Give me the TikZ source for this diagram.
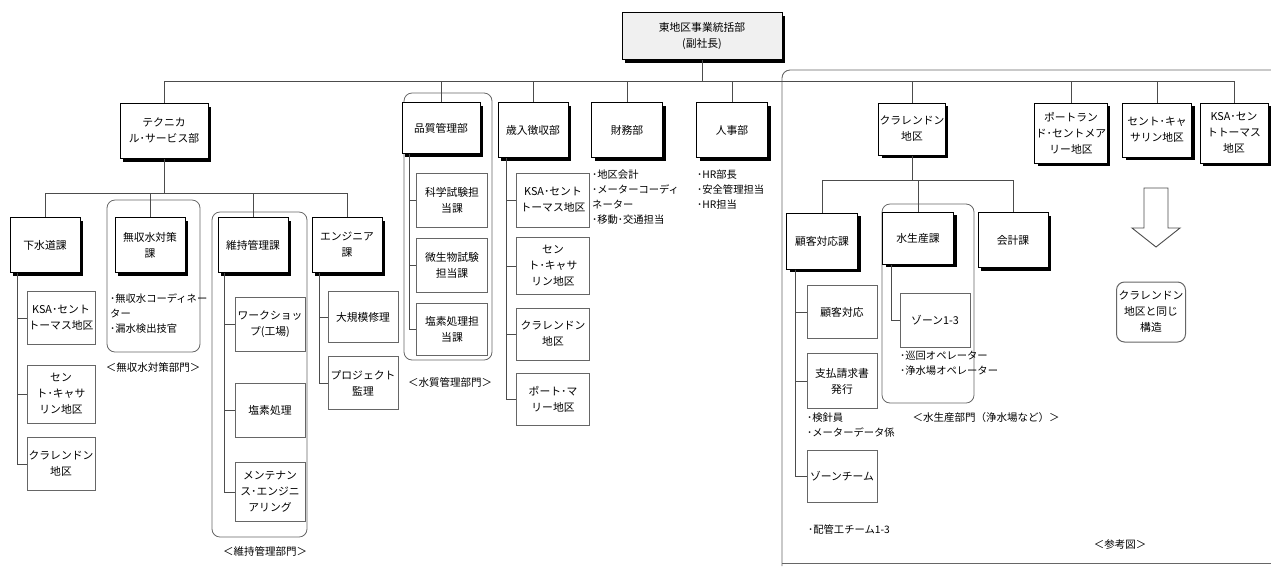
\documentclass[tikz,border=0pt]{standalone}
\usepackage{fontspec}
\setmainfont{Noto Sans CJK JP}
\usetikzlibrary{shadows}
\begin{document}
\begin{tikzpicture}[x=1pt,y=-1pt,
  every node/.style={font=\fontsize{10.8}{16}\selectfont, inner sep=1pt},
  mbox/.style={draw=black, line width=1pt, fill=white, align=center,
    drop shadow={shadow xshift=3pt, shadow yshift=-3pt, fill=black, opacity=1}},
  cbox/.style={draw=black!60, line width=1pt, fill=white, align=center},
  grp/.style={draw=black!60, line width=0.8pt, rounded corners=8pt},
  conn/.style={draw=black!70, line width=0.8pt},
  note/.style={anchor=north west, align=left, inner sep=0pt, font=\fontsize{10.3}{15}\selectfont},
  lbl/.style={inner sep=0pt, font=\fontsize{10.5}{12}\selectfont}
]
\useasboundingbox (0,0) rectangle (1271,566);

% buses
\coordinate (bus) at (0,81);
\coordinate (tbus) at (0,193);
\coordinate (cbus) at (0,180);

% right panel frame
\draw[black!60, line width=0.9pt] (1271,70) [rounded corners=8pt]-- (782,70) [sharp corners]-- (782,566);
\draw[black!60, line width=0.9pt] (782,563) -- (1271,563);

% groups
\draw[grp] (107,200) rectangle (200,352);
\draw[grp] (212,212) rectangle (307,537);
\draw[grp] (404,93) rectangle (492,360);
\draw[grp] (882,204) rectangle (974,403);

% top
\node[mbox, fill=gray!12, minimum width=160pt, minimum height=47pt] (top) at (702,36) {東地区事業統括部\\(副社長)};

% level 2
\node[mbox, minimum width=88pt, minimum height=55pt] (tech) at (164,131) {テクニカ\\ル･サービス部};
\node[mbox, minimum width=78pt, minimum height=51pt] (qual) at (441,128) {品質管理部};
\node[mbox, minimum width=70pt, minimum height=55pt] (rev) at (533,130) {歳入徴収部};
\node[mbox, minimum width=71pt, minimum height=55pt] (fin) at (627,130) {財務部};
\node[mbox, minimum width=71pt, minimum height=55pt] (hr) at (732,130) {人事部};
\node[mbox, minimum width=65pt, minimum height=52pt] (clr) at (912,129) {クラレンドン\\地区};
\node[mbox, minimum width=67pt, minimum height=60pt] (ptl) at (1071,133) {ポートラン\\ド･セントメア\\リー地区};
\node[mbox, minimum width=69pt, minimum height=54pt] (stc) at (1157,130) {セント･キャ\\サリン地区};
\node[mbox, minimum width=68pt, minimum height=60pt] (ksa) at (1234,133) {KSA･セン\\トトーマス\\地区};

\draw[conn] (top.south) -- (top.south |- bus);
\draw[conn] (tech.north |- bus) -- (ksa.north |- bus);
\foreach \n in {tech,qual,rev,fin,hr,clr,ptl,stc,ksa}
  \draw[conn] (\n.north) -- (\n.north |- bus);

% technical services level 3
\node[mbox, minimum width=70pt, minimum height=55pt] (sew) at (45,245) {下水道課};
\node[mbox, minimum width=70pt, minimum height=55pt] (nrw) at (150,245) {無収水対策\\課};
\node[mbox, minimum width=70pt, minimum height=55pt] (mnt) at (253,245) {維持管理課};
\node[mbox, minimum width=70pt, minimum height=55pt] (eng) at (347,245) {エンジニア\\課};
\draw[conn] (tech.south) -- (tech.south |- tbus);
\draw[conn] (sew.north |- tbus) -- (eng.north |- tbus);
\foreach \n in {sew,nrw,mnt,eng}
  \draw[conn] (\n.north) -- (\n.north |- tbus);

% sewerage children
\node[cbox, minimum width=68pt, minimum height=53pt] (s1) at (61,318) {KSA･セント\\トーマス地区};
\node[cbox, minimum width=68pt, minimum height=58pt] (s2) at (61,394) {セン\\ト･キャサ\\リン地区};
\node[cbox, minimum width=68pt, minimum height=53pt] (s3) at (61,464) {クラレンドン\\地区};
\foreach \n in {s1,s2,s3}
  \draw[conn] ([xshift=8pt]sew.south west) |- (\n.west);

% NRW notes
\node[note] (nrwnote) at (110,294) {･無収水コーディネー\\ター\\･漏水検出技官};
\node[lbl] (nrwlbl) at (153,367) {＜無収水対策部門＞};

% maintenance children
\node[cbox, minimum width=70pt, minimum height=54pt] (m1) at (270,324) {ワークショッ\\プ(工場)};
\node[cbox, minimum width=70pt, minimum height=54pt] (m2) at (270,410) {塩素処理};
\node[cbox, minimum width=70pt, minimum height=59pt] (m3) at (270,492) {メンテナン\\ス･エンジニ\\アリング};
\foreach \n in {m1,m2,m3}
  \draw[conn] ([xshift=7pt]mnt.south west) |- (\n.west);
\node[lbl] (mntlbl) at (265,551) {＜維持管理部門＞};

% engineering children
\node[cbox, minimum width=70pt, minimum height=51pt] (e1) at (363,317) {大規模修理};
\node[cbox, minimum width=70pt, minimum height=53pt] (e2) at (363,383) {プロジェクト\\監理};
\foreach \n in {e1,e2}
  \draw[conn] ([xshift=8pt]eng.south west) |- (\n.west);

% quality children
\node[cbox, minimum width=71pt, minimum height=54pt] (q1) at (452,200) {科学試験担\\当課};
\node[cbox, minimum width=71pt, minimum height=54pt] (q2) at (452,265) {微生物試験\\担当課};
\node[cbox, minimum width=71pt, minimum height=52pt] (q3) at (452,329) {塩素処理担\\当課};
\foreach \n in {q1,q2,q3}
  \draw[conn] ([xshift=8pt]qual.south west) |- (\n.west);
\node[lbl] (quallbl) at (450,382) {＜水質管理部門＞};

% revenue children
\node[cbox, minimum width=73pt, minimum height=54pt] (r1) at (553,200) {KSA･セント\\トーマス地区};
\node[cbox, minimum width=73pt, minimum height=57pt] (r2) at (553,266) {セン\\ト･キャサ\\リン地区};
\node[cbox, minimum width=73pt, minimum height=52pt] (r3) at (553,334) {クラレンドン\\地区};
\node[cbox, minimum width=73pt, minimum height=52pt] (r4) at (553,399) {ポート･マ\\リー地区};
\foreach \n in {r1,r2,r3,r4}
  \draw[conn] ([xshift=9pt]rev.south west) |- (\n.west);

% finance / HR notes
\node[note] (finnote) at (592,170) {･地区会計\\･メーターコーディ\\ネーター\\･移動･交通担当};
\node[note] (hrnote) at (697,170) {･HR部長\\･安全管理担当\\･HR担当};

% Clarendon level 3
\node[mbox, minimum width=71pt, minimum height=56pt] (cust) at (822,241) {顧客対応課};
\node[mbox, minimum width=71pt, minimum height=52pt] (prod) at (918,238) {水生産課};
\node[mbox, minimum width=70pt, minimum height=55pt] (acc) at (1013,240) {会計課};
\draw[conn] (clr.south) -- (clr.south |- cbus);
\draw[conn] (cust.north |- cbus) -- (acc.north |- cbus);
\foreach \n in {cust,prod,acc}
  \draw[conn] (\n.north) -- (\n.north |- cbus);

% customer children
\node[cbox, minimum width=70pt, minimum height=53pt] (c1) at (842,312) {顧客対応};
\node[cbox, minimum width=70pt, minimum height=55pt] (c2) at (842,381) {支払請求書\\発行};
\node[cbox, minimum width=70pt, minimum height=52pt] (c3) at (842,476) {ゾーンチーム};
\foreach \n in {c1,c2,c3}
  \draw[conn] ([xshift=9pt]cust.south west) |- (\n.west);
\node[note] (custnote) at (807,413) {･検針員\\･メーターデータ係};
\node[note] (pipenote) at (808,525) {･配管工チーム1-3};

% production child
\node[cbox, minimum width=70pt, minimum height=54pt] (z1) at (935,320) {ゾーン1-3};
\draw[conn] ([xshift=9pt]prod.south west) |- (z1.west);
\node[note] (prodnote) at (900,351) {･巡回オペレーター\\･浄水場オペレーター};
\node[lbl] (prodlbl) at (986,417) {＜水生産部門（浄水場など）＞};

% block arrow and same-structure box
\draw[black!70, line width=0.9pt, fill=white] (1144,188) -- (1168,188) -- (1168,228) -- (1180,228) -- (1156,247) -- (1132,228) -- (1144,228) -- cycle;
\node[cbox, rounded corners=8pt, minimum width=69pt, minimum height=60pt] (same) at (1151,312) {クラレンドン\\地区と同じ\\構造};

\node[lbl] (ref) at (1120,545) {＜参考図＞};
\end{tikzpicture}
\end{document}
